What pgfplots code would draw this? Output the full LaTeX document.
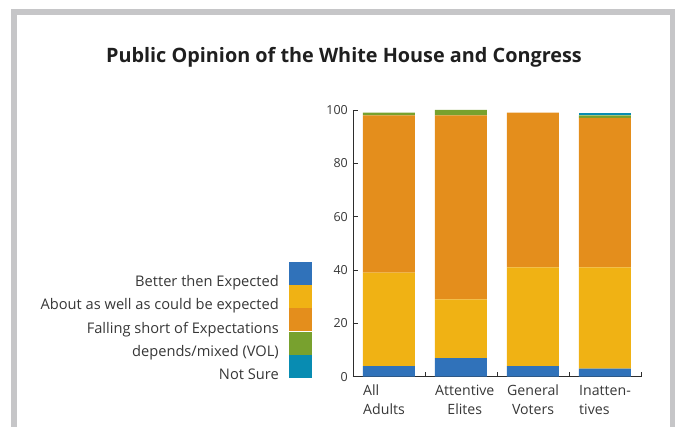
\documentclass[border=0pt]{standalone}
\usepackage{pgfplots}
\pgfplotsset{compat=1.18}
\usepackage{fontspec}
\setmainfont{Open Sans}
\definecolor{cBlue}{RGB}{48,114,186}
\definecolor{cYellow}{RGB}{240,178,20}
\definecolor{cOrange}{RGB}{228,142,28}
\definecolor{cGreen}{RGB}{120,161,46}
\definecolor{cTeal}{RGB}{8,140,178}
\definecolor{cFrame}{RGB}{198,198,200}
\definecolor{cText}{RGB}{55,55,55}
\definecolor{cAxis}{RGB}{45,45,45}
\begin{document}
\begin{tikzpicture}
\begin{axis}[
  at={(0,0)}, anchor=south west,
  scale only axis, width=288bp, height=266.7bp,
  ybar stacked, bar width=52bp,
  xmin=-0.5, xmax=3.5, ymin=0, ymax=100,
  axis x line*=bottom, axis y line*=left,
  axis line style={-, draw=cAxis, line width=0.8bp},
  tick align=inside,
  xtick={0.5,1.5,2.5,3.5}, xticklabels={},
  major tick length=5bp,
  tick style={draw=cAxis, line width=0.8bp},
  extra x ticks={0,1,2,3},
  extra x tick labels={{\begin{tabular}{@{}l@{}}All\\Adults\end{tabular}},{\begin{tabular}{@{}c@{}}Attentive\\Elites\end{tabular}},{\begin{tabular}{@{}c@{}}General\\Voters\end{tabular}},{\begin{tabular}{@{}l@{}}Inatten-\\tives\end{tabular}}},
  extra x tick style={major tick length=0pt, tick style={draw=none},
    xticklabel style={anchor=north west, xshift=-26bp, yshift=-5bp}},
  xticklabel style={font=\fontsize{14.2}{19}\selectfont, text=cText, inner sep=0pt},
  ytick={0,20,40,60,80,100},
  yticklabel style={font=\fontsize{12.5}{15}\selectfont, text=cText, inner sep=0pt, xshift=-5bp},
  /pgf/number format/assume math mode=true,
  legend image code/.code={\fill[#1] (0bp,-3bp) rectangle (23bp,20bp);},
  legend style={at={(rel axis cs:-0.1424,-0.0165)}, anchor=south east,
    draw=none, fill=none, inner sep=0pt, row sep=-3bp, column sep=10bp,
    nodes={inner sep=0pt, text=cText, font=\fontsize{14.7}{17}\selectfont}},
  legend cell align=right,
  legend plot pos=right,
]
\addplot[fill=cBlue, draw=none] coordinates {(0,4) (1,7) (2,4) (3,3)};
\addplot[fill=cYellow, draw=none] coordinates {(0,35) (1,22) (2,37) (3,38)};
\addplot[fill=cOrange, draw=none] coordinates {(0,59) (1,69) (2,58) (3,56)};
\addplot[fill=cGreen, draw=none] coordinates {(0,1) (1,2) (2,0) (3,1)};
\addplot[fill=cTeal, draw=none] coordinates {(0,0) (1,0) (2,0) (3,1)};
\legend{Better then Expected, About as well as could be expected, Falling short of Expectations, depends/mixed (VOL), Not Sure}
\end{axis}
\node[anchor=base, text=black!88, font=\fontsize{19.9}{24}\bfseries] at (-9bp,314.4bp) {Public Opinion of the White House and Congress};
\begin{scope}
\clip (-353bp,-50.3bp) rectangle (322bp,376.7bp);
\draw[cFrame, line width=6bp] (-339bp,-80bp) -- (-339bp,364.7bp) -- (320bp,364.7bp) -- (320bp,-80bp);
\end{scope}
\pgfresetboundingbox
\useasboundingbox (-353bp,-50.3bp) rectangle (322bp,376.7bp);
\end{tikzpicture}
\end{document}
